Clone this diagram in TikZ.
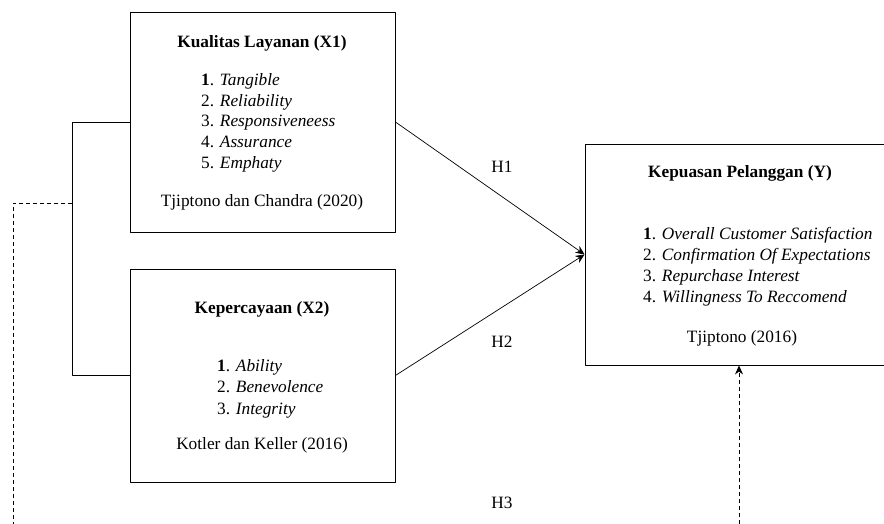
\documentclass[tikz,border=0pt]{standalone}
\usepackage{fontspec}
\setmainfont{Liberation Serif}
\usetikzlibrary{arrows.meta}
\begin{document}
\begin{tikzpicture}[x=1pt,y=-1pt,>={Stealth[length=9pt,width=8pt]}, line join=round, font=\fontsize{17.3}{20.5}\selectfont]
            \tikzset{box/.style={draw, line width=0.9pt, inner sep=0pt},
                     title/.style={font=\fontsize{17.3}{20.5}\selectfont\bfseries},
                     item/.style={anchor=base west, inner sep=0pt},
                     cite/.style={anchor=base, inner sep=0pt},
                     hyp/.style={inner sep=0pt},
                     link/.style={line width=0.7pt},
                     dashlink/.style={line width=0.7pt, dash pattern=on 4pt off 3pt}}
            \useasboundingbox (0,0) rectangle (884,524);
            % boxes
            \node[box, minimum width=265, minimum height=220] (x1) at (262.5,122) {};
            \node[box, minimum width=265, minimum height=213] (x2) at (262.5,375.5) {};
            \node[box, minimum width=305, minimum height=221] (y) at (737.5,254.5) {};
            % Kualitas Layanan
            \node[title, anchor=base] (x1t) at (262,48) {Kualitas Layanan (X1)};
            \node[item] (x1a) at (201,86) {\textbf{1}. \textit{Tangible}};
            \node[item] (x1b) at (201,106.5) {2. \textit{Reliability}};
            \node[item] (x1c) at (201,127) {3. \textit{Responsiveneess}};
            \node[item] (x1d) at (201,147.5) {4. \textit{Assurance}};
            \node[item] (x1e) at (201,168) {5. \textit{Emphaty}};
            \node[cite] (x1s) at (262,206) {Tjiptono dan Chandra (2020)};
            % Kepercayaan
            \node[title, anchor=base] (x2t) at (262,313) {Kepercayaan (X2)};
            \node[item] (x2a) at (217,371) {\textbf{1}. \textit{Ability}};
            \node[item] (x2b) at (217,392.5) {2. \textit{Benevolence}};
            \node[item] (x2c) at (217,414) {3. \textit{Integrity}};
            \node[cite] (x2s) at (262,449) {Kotler dan Keller (2016)};
            % Kepuasan Pelanggan
            \node[title, anchor=base] (yt) at (740,178) {Kepuasan Pelanggan (Y)};
            \node[item] (ya) at (643,239) {\textbf{1}. \textit{Overall Customer Satisfaction}};
            \node[item] (yb) at (643,260) {2. \textit{Confirmation Of Expectations}};
            \node[item] (yc) at (643,281) {3. \textit{Repurchase Interest}};
            \node[item] (yd) at (643,302) {4. \textit{Willingness To Reccomend}};
            \node[cite] (ys) at (742,342) {Tjiptono (2016)};
            % hypotheses
            \draw[link,->] (x1.east) -- (y.west);
            \draw[link,->] (x2.east) -- (y.west);
            \node[hyp] (h1) at (502,167) {H1};
            \node[hyp] (h2) at (502,342) {H2};
            \node[hyp] (h3) at (502,503) {H3};
            % simultaneous path
            \coordinate (brk) at (72,203);
            \coordinate (dl) at (13,524);
            \coordinate (dr) at (739,524);
            \draw[link] (x1.west) -- (x1.west -| brk) -- (x2.west -| brk) -- (x2.west);
            \draw[dashlink] (brk) -| (dl);
            \draw[dashlink,->] (dr) -- (dr |- y.south);
\end{tikzpicture}
\end{document}
